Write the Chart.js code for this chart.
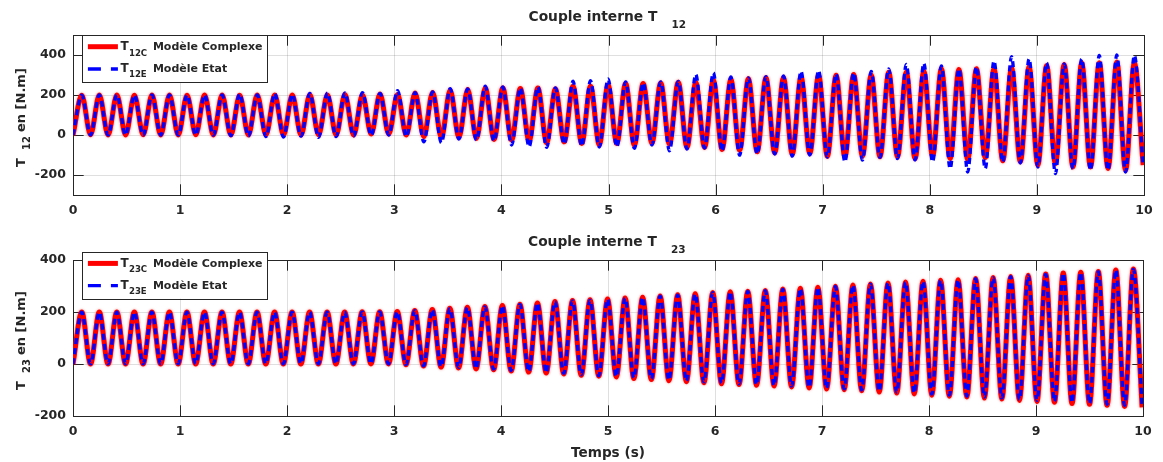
<!DOCTYPE html>
<html>
<head>
<meta charset="utf-8">
<script src="https://cdn.jsdelivr.net/npm/chart.js@4.4.1/dist/chart.umd.min.js"></script>
<style>
  html, body { margin: 0; padding: 0; background: #fff; }
  body { width: 1163px; height: 462px; position: relative; overflow: hidden; }
  .pane { position: absolute; left: 0; width: 1163px; }
</style>
</head>
<body>
<div class="pane" style="top:0;height:230px"><canvas id="plot12" width="1163" height="230"></canvas></div>
<div class="pane" style="top:230px;height:232px"><canvas id="plot23" width="1163" height="232"></canvas></div>
<script>
// time between two successive extrema (61 cycles over ~10 s)
const halfStep = 0.0819;

const xTicks = [0, 1, 2, 3, 4, 5, 6, 7, 8, 9, 10];
const yTicks12 = [-200, 0, 200, 400];
const yTicks23 = [-200, 0, 200, 400];

// T12 - modele complexe (red)
const t12ComplexPeaks = [
  199, 200, 200, 199, 200, 200, 199, 200, 200, 199, 200, 200, 200, 201, 200,
  202, 200, 205, 202, 210, 213, 224, 227, 235, 235, 232, 235, 230, 244, 244, 250,
  258, 257, 260, 264, 262, 274, 277, 281, 286, 286, 291, 297, 299, 303, 300,
  314, 314, 319, 331, 328, 331, 331, 336, 341, 348, 353, 361, 361, 365, 361
];
const t12ComplexTroughs = [
  0, 1, 0, 0, 1, 0, 0, 1, 0, 0, 0, 1, 0, 0, 1, 0,
  0, 5, 5, 0, -8, -12, -12, -17, -22, -25, -30, -39, -34, -42, -48,
  -42, -50, -40, -45, -62, -62, -72, -76, -84, -89, -96, -92, -106, -109, -106, -109,
  -109, -118, -106, -118, -123, -114, -129, -134, -151, -143, -160, -160, -168, -176, -150
];
// T12 - modele etat (blue dashed)
const t12EtatPeaks = [
  199, 200, 200, 199, 200, 200, 199, 200, 200, 205, 200, 207, 203, 208, 210,
  210, 212, 208, 222, 212, 215, 232, 230, 244, 240, 235, 240, 235, 269, 272, 280,
  266, 260, 266, 268, 303, 311, 290, 285, 292, 295, 319, 322, 305, 310, 318,
  331, 353, 358, 345, 330, 340, 370, 392, 380, 360, 355, 380, 398, 400, 398
];
const t12EtatTroughs = [
  0, 0, 0, 0, 0, 0, 0, 0, 0, -3, -5, -8, -10, -6, -12, -8,
  -5, -2, 0, -8, -34, -39, -20, -25, -30, -50, -59, -62, -45, -55, -60,
  -59, -67, -50, -79, -70, -65, -80, -101, -95, -95, -106, -100, -110, -134, -126, -112,
  -118, -125, -134, -168, -185, -168, -135, -140, -160, -193, -168, -176, -175, -185, -155
];

// T23 - modele complexe (red)
const t23ComplexPeaks = [
  200, 200, 200, 200, 200, 200, 200, 200, 200, 200, 200, 200, 200, 200, 200, 200, 201, 201,
  202, 206, 210, 214, 218, 221, 225, 230, 235, 240, 244, 247, 250, 254, 257, 262, 266, 270, 275, 278, 280,
  283, 288, 291, 295, 299, 304, 308, 312, 315, 318, 322, 324, 329, 333, 337, 341, 346, 350, 353, 356, 362, 365
];
const t23ComplexTroughs = [
  0, 0, 0, 0, 0, 0, 0, 0, 0, 0, 0, 0, 0, 0, 0, 0, 0, 0,
  0, -3, -8, -12, -15, -19, -22, -27, -31, -35, -38, -43, -47, -50, -56, -60, -64, -68, -72, -76, -79, -82,
  -85, -88, -92, -96, -99, -103, -108, -112, -115, -120, -124, -127, -131, -135, -140, -144, -147, -152, -155, -159, -163, -167
];
// T23 - modele etat (blue dashed)
const t23EtatPeaks = [
  199, 199, 199, 199, 199, 199, 199, 199, 199, 199, 199, 199, 199, 199, 199, 199, 200, 200,
  201, 205, 209, 213, 217, 220, 224, 229, 234, 239, 243, 246, 249, 253, 256, 261, 265, 269, 274, 277, 279,
  282, 287, 290, 294, 298, 303, 307, 311, 314, 317, 321, 323, 328, 332, 336, 340, 345, 349, 352, 355, 361, 364
];
const t23EtatTroughs = [
  0, 1, 1, 1, 1, 1, 1, 1, 1, 1, 1, 1, 1, 1, 1, 1, 1, 1,
  1, -2, -7, -10, -13, -17, -20, -25, -29, -33, -36, -41, -45, -48, -53, -57, -61, -65, -69, -73, -76, -79,
  -82, -85, -89, -93, -96, -100, -104, -108, -111, -116, -120, -123, -127, -131, -136, -140, -143, -148, -151, -155, -159, -163
];

const FONT = '"DejaVu Sans", sans-serif';
const INK = '#262626';

function buildSeries(troughs, peaks) {
  const pts = [];
  for (let i = 0; i < troughs.length; i++) {
    pts.push({ x: 2 * i * halfStep, y: troughs[i] });
    if (i < peaks.length) pts.push({ x: (2 * i + 1) * halfStep, y: peaks[i] });
  }
  return pts;
}

function text(ctx, str, x, y, size, align) {
  ctx.font = 'bold ' + size + 'px ' + FONT;
  ctx.textAlign = align || 'left';
  ctx.textBaseline = 'alphabetic';
  ctx.fillStyle = INK;
  ctx.fillText(str, x, y);
}

// box, inward ticks, titles, y label, legend
const decor = {
  id: 'decor',
  beforeDatasetsDraw(chart, args, o) {
    const ctx = chart.ctx, a = chart.chartArea;
    const xs = chart.scales.x, ys = chart.scales.y;
    const tl = 10.7;
    ctx.save();
    ctx.strokeStyle = INK;
    ctx.lineWidth = 1;
    ctx.beginPath();
    xs.ticks.forEach(t => {
      const px = Math.round(xs.getPixelForValue(t.value)) + 0.5;
      ctx.moveTo(px, a.bottom); ctx.lineTo(px, a.bottom - tl);
      ctx.moveTo(px, a.top); ctx.lineTo(px, a.top + tl);
    });
    ys.ticks.forEach(t => {
      const py = Math.round(ys.getPixelForValue(t.value)) + 0.5;
      ctx.moveTo(a.left, py); ctx.lineTo(a.left + tl, py);
      ctx.moveTo(a.right, py); ctx.lineTo(a.right - tl, py);
    });
    ctx.stroke();
    ctx.strokeRect(Math.round(a.left) + 0.5, Math.round(a.top) + 0.5,
      Math.round(a.right - a.left), Math.round(a.bottom - a.top));
    ctx.restore();
  },
  // soft edge on the thick red curve, like the anti-aliased original
  beforeDatasetDraw(chart, args) {
    if (args.meta.order === 1) {
      chart.ctx.save();
      chart.ctx.shadowColor = 'rgba(255,0,0,0.45)';
      chart.ctx.shadowBlur = 2.5;
    }
  },
  afterDatasetDraw(chart, args) {
    if (args.meta.order === 1) chart.ctx.restore();
  },
  afterDatasetsDraw(chart, args, o) {
    const ctx = chart.ctx, a = chart.chartArea;
    const cx = (a.left + a.right) / 2;
    const cy = (a.top + a.bottom) / 2;
    ctx.save();

    // title
    text(ctx, 'Couple interne T', cx - 80, a.top - 14, 13.8);
    text(ctx, o.sub, cx + 63, a.top - 6.7, 10.5);

    // y label
    ctx.save();
    ctx.translate(25, cy + 52);
    ctx.rotate(-Math.PI / 2);
    text(ctx, 'T', 0, 0, 13);
    text(ctx, o.sub, 17, 5, 10);
    text(ctx, 'en [N.m]', 35, 0, 13);
    ctx.restore();

    // legend
    const bx = a.left + 9.4, by = a.top + o.legendDy;
    ctx.fillStyle = '#fff';
    ctx.fillRect(bx, by, 185, 47);
    ctx.strokeStyle = INK;
    ctx.lineWidth = 1;
    ctx.strokeRect(Math.round(bx) + 0.5, Math.round(by) + 0.5, 185, 47);

    ctx.lineWidth = 5;
    ctx.strokeStyle = '#ff0000';
    ctx.beginPath();
    ctx.moveTo(bx + 5.5, by + 11.7); ctx.lineTo(bx + 35.5, by + 11.7);
    ctx.stroke();
    ctx.lineWidth = 3.3;
    ctx.strokeStyle = '#0000ff';
    ctx.setLineDash([13, 10]);
    ctx.beginPath();
    ctx.moveTo(bx + 5.5, by + 34); ctx.lineTo(bx + 35.5, by + 34);
    ctx.stroke();
    ctx.setLineDash([]);

    text(ctx, 'T', bx + 38, by + 15.3, 12);
    text(ctx, o.sub + 'C', bx + 46.5, by + 20.7, 8.6);
    text(ctx, 'Modèle Complexe', bx + 70.5, by + 15.3, 11);
    text(ctx, 'T', bx + 38, by + 36.9, 12);
    text(ctx, o.sub + 'E', bx + 46.5, by + 42.3, 8.6);
    text(ctx, 'Modèle Etat', bx + 70.5, by + 36.9, 11);

    if (o.xlabel) text(ctx, o.xlabel, cx, a.bottom + 40.5, 13.6, 'center');
    ctx.restore();
  }
};

function makeChart(id, complex, etat, yMin, yMax, yTicks, cfg) {
  return new Chart(document.getElementById(id).getContext('2d'), {
    type: 'line',
    data: {
      datasets: [{
        label: 'Etat',
        data: etat,
        borderColor: '#0000ff',
        borderWidth: 3.3,
        borderDash: [6, 4],
        pointRadius: 0,
        cubicInterpolationMode: 'monotone',
        fill: false,
        order: 0
      }, {
        label: 'Complexe',
        data: complex,
        borderColor: '#ff0000',
        borderWidth: 5,
        pointRadius: 0,
        cubicInterpolationMode: 'monotone',
        fill: false,
        order: 1
      }]
    },
    options: {
      responsive: false,
      animation: false,
      devicePixelRatio: 1,
      layout: { padding: { top: cfg.top, right: cfg.right, left: 0, bottom: 0 } },
      plugins: {
        legend: { display: false },
        title: { display: false },
        tooltip: { enabled: false },
        decor: { sub: cfg.sub, legendDy: cfg.legendDy, xlabel: cfg.xlabel }
      },
      scales: {
        x: {
          type: 'linear',
          min: 0, max: 10,
          afterBuildTicks: s => { s.ticks = xTicks.map(v => ({ value: v })); },
          afterFit: s => { s.height = cfg.xh; },
          grid: { color: 'rgba(38,38,38,0.15)', drawTicks: false },
          border: { display: false },
          ticks: {
            autoSkip: false, maxRotation: 0, minRotation: 0, padding: 8.5,
            color: INK, font: { family: FONT, size: 12.5, weight: 'bold' }
          }
        },
        y: {
          type: 'linear',
          min: yMin, max: yMax,
          afterBuildTicks: s => { s.ticks = yTicks.map(v => ({ value: v })); },
          afterFit: s => { s.width = 73; },
          grid: { color: 'rgba(38,38,38,0.15)', drawTicks: false },
          border: { display: false },
          ticks: {
            padding: 7,
            color: INK, font: { family: FONT, size: 12.5, weight: 'bold' }
          }
        }
      }
    },
    plugins: [decor]
  });
}

makeChart('plot12',
  buildSeries(t12ComplexTroughs, t12ComplexPeaks),
  buildSeries(t12EtatTroughs, t12EtatPeaks),
  -300, 500, yTicks12,
  { top: 35, right: 19, xh: 35, sub: '12', legendDy: 0, xlabel: null });

makeChart('plot23',
  buildSeries(t23ComplexTroughs, t23ComplexPeaks),
  buildSeries(t23EtatTroughs, t23EtatPeaks),
  -200, 400, yTicks23,
  { top: 30, right: 20, xh: 46, sub: '23', legendDy: -8.3, xlabel: 'Temps (s)' });
</script>
</body>
</html>
